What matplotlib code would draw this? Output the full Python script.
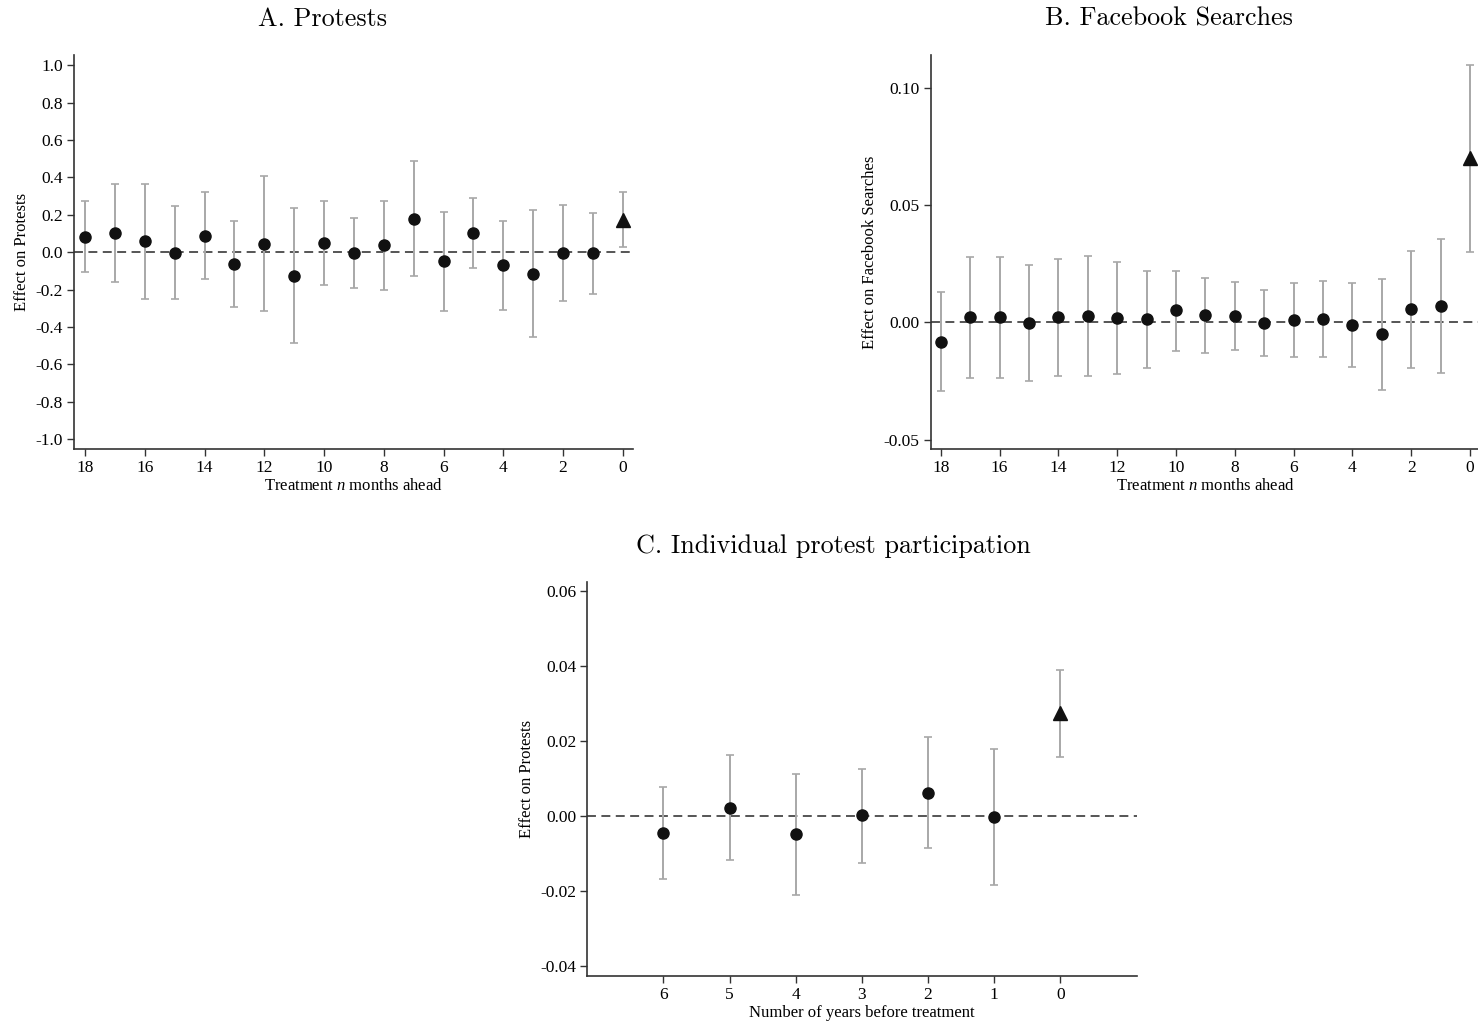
import numpy as np
import matplotlib
matplotlib.use("Agg")
import matplotlib.pyplot as plt
from matplotlib.ticker import FormatStrFormatter

plt.rcParams["font.family"] = ["Liberation Serif", "DejaVu Serif"]
plt.rcParams["axes.unicode_minus"] = False
plt.rcParams["mathtext.fontset"] = "custom"
plt.rcParams["mathtext.rm"] = "Liberation Serif"
plt.rcParams["mathtext.it"] = "Liberation Serif:italic"

# ---- Panel A: protests, treatment n months ahead ----
months = list(range(18, -1, -1))
prot_est = [0.082, 0.103, 0.057, -0.003, 0.089, -0.063, 0.046, -0.126, 0.048, -0.004,
            0.037, 0.180, -0.050, 0.102, -0.070, -0.115, -0.005, -0.007, 0.174]
prot_lo = [-0.107, -0.162, -0.250, -0.253, -0.143, -0.292, -0.316, -0.487, -0.178, -0.190,
           -0.203, -0.125, -0.317, -0.087, -0.308, -0.456, -0.260, -0.225, 0.027]
prot_hi = [0.273, 0.367, 0.364, 0.248, 0.321, 0.166, 0.408, 0.235, 0.275, 0.182,
           0.276, 0.487, 0.217, 0.292, 0.169, 0.226, 0.250, 0.210, 0.321]

# ---- Panel B: Facebook searches ----
fb_est = [-0.0082, 0.0021, 0.0021, -0.0001, 0.0021, 0.0028, 0.0020, 0.0014, 0.0051, 0.0030,
          0.0027, -0.0004, 0.0010, 0.0014, -0.0011, -0.0051, 0.0055, 0.0071, 0.0699]
fb_lo = [-0.0293, -0.0237, -0.0236, -0.0249, -0.0230, -0.0227, -0.0220, -0.0193, -0.0121, -0.0129,
         -0.0118, -0.0145, -0.0148, -0.0146, -0.0190, -0.0288, -0.0195, -0.0216, 0.0300]
fb_hi = [0.0128, 0.0277, 0.0277, 0.0246, 0.0271, 0.0284, 0.0259, 0.0220, 0.0220, 0.0188,
         0.0170, 0.0139, 0.0168, 0.0176, 0.0169, 0.0186, 0.0303, 0.0357, 0.1097]

# ---- Panel C: individual protest participation ----
years = [6, 5, 4, 3, 2, 1, 0]
ind_est = [-0.0046, 0.0021, -0.0050, 0.0001, 0.0062, -0.0004, 0.0274]
ind_lo = [-0.0168, -0.0118, -0.0211, -0.0125, -0.0085, -0.0185, 0.0158]
ind_hi = [0.0077, 0.0161, 0.0112, 0.0125, 0.0211, 0.0177, 0.0390]

prot_ticks = [-1.0, -0.8, -0.6, -0.4, -0.2, 0.0, 0.2, 0.4, 0.6, 0.8, 1.0]
fb_ticks = [-0.05, 0.0, 0.05, 0.10]
ind_ticks = [-0.04, -0.02, 0.0, 0.02, 0.04, 0.06]

W, H = 1478, 1021
fig = plt.figure(figsize=(W / 100, H / 100), dpi=100)


def px_axes(x0, y0, x1, y1):
    return fig.add_axes([x0 / W, 1 - y1 / H, (x1 - x0) / W, (y1 - y0) / H])


def event_plot(ax, x, est, lo, hi, xlim, ylim, yticks, xticks, fmt, ylabel, xlabel):
    x = np.asarray(x)
    est = np.asarray(est)
    lo = np.asarray(lo)
    hi = np.asarray(hi)
    ax.axhline(0, color="#555555", lw=1.4, ls=(0, (4.6, 2.8)), zorder=1)
    ax.errorbar(x, est, yerr=[est - lo, hi - est], fmt="none", ecolor="#a8a8a8",
                elinewidth=1.4, capsize=2.8, capthick=1.2, zorder=2)
    pre = x != 0
    ax.plot(x[pre], est[pre], "o", color="#111111", ms=8, zorder=3, clip_on=False)
    ax.plot(x[~pre], est[~pre], "^", color="#111111", ms=10.5, zorder=3)
    ax.set_xlim(*xlim)
    ax.set_ylim(*ylim)
    ax.set_yticks(yticks)
    ax.set_xticks(xticks)
    ax.yaxis.set_major_formatter(FormatStrFormatter(fmt))
    for s in ("top", "right"):
        ax.spines[s].set_visible(False)
    for s in ("left", "bottom"):
        ax.spines[s].set_color("#333333")
        ax.spines[s].set_linewidth(1.2)
    ax.tick_params(direction="out", length=5, width=1, color="#333333",
                   labelsize=12.5, pad=3)
    ax.set_ylabel(ylabel, fontsize=12, labelpad=4)
    ax.set_xlabel(xlabel, fontsize=12, labelpad=1)


ax_a = px_axes(74, 55, 633, 449.3)
event_plot(ax_a, months, prot_est, prot_lo, prot_hi, (18.37, -0.34), (-1.055, 1.055),
           prot_ticks, list(range(18, -1, -2)), "%.1f",
           "Effect on Protests", "Treatment $\\it{n}$ months ahead")

ax_b = px_axes(930.7, 55, 1479.5, 449)
event_plot(ax_b, months, fb_est, fb_lo, fb_hi, (18.34, -0.32), (-0.054, 0.1139),
           fb_ticks, list(range(18, -1, -2)), "%.2f",
           "Effect on Facebook Searches", "Treatment $\\it{n}$ months ahead")

ax_c = px_axes(587.3, 581.7, 1136.7, 976)
event_plot(ax_c, years, ind_est, ind_lo, ind_hi, (7.15, -1.155), (-0.0428, 0.0625),
           ind_ticks, years, "%.2f",
           "Effect on Protests", "Number of years before treatment")

title_kw = dict(fontfamily="cmr10", fontsize=18.8, ha="center", va="center")
fig.text(322 / W, 1 - 19 / H, "A. Protests", **title_kw)
fig.text(1169 / W, 1 - 19 / H, "B. Facebook Searches", **title_kw)
fig.text(833 / W, 1 - 546 / H, "C. Individual protest participation", **title_kw)

fig.savefig("out.png", dpi=100)
